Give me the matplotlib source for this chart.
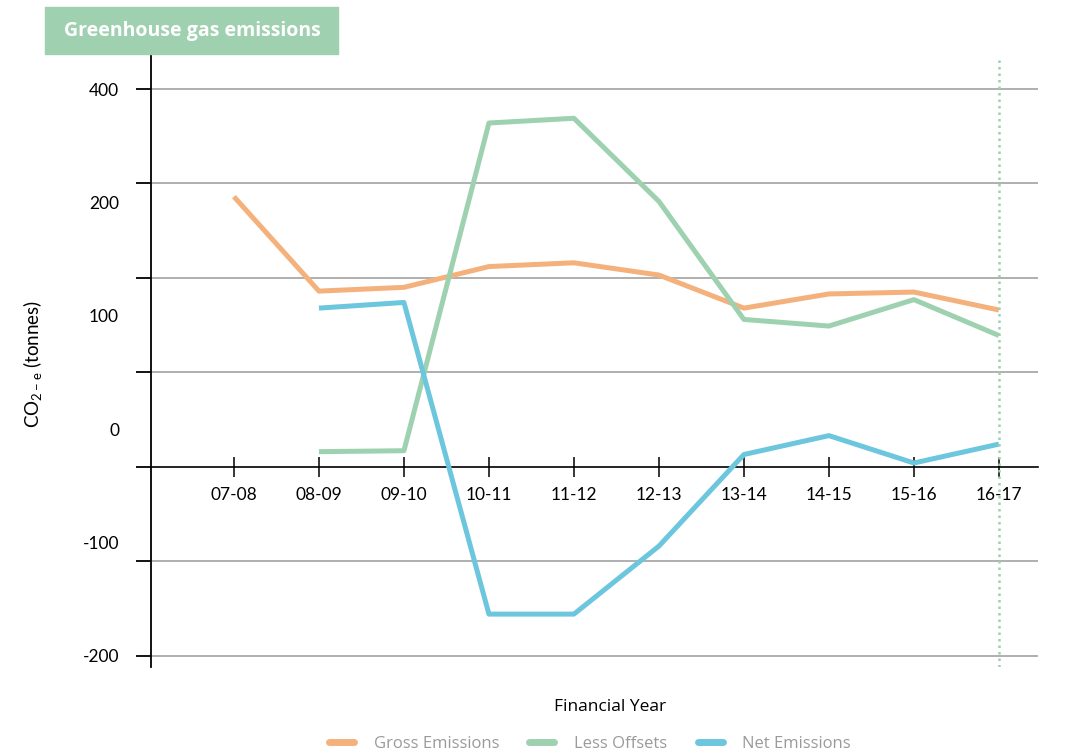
import matplotlib.pyplot as plt
from matplotlib.patches import Rectangle
from matplotlib.lines import Line2D

years = ["07-08", "08-09", "09-10", "10-11", "11-12", "12-13", "13-14", "14-15", "15-16", "16-17"]
gross = [286, 186, 190, 212, 216, 203, 168, 183, 185, 166]
offsets = [None, 16, 17, 364, 369, 281, 156, 149, 177, 139]
net = [None, 168, 174, -156, -156, -84, 13, 33, 4, 24]

grid_vals = [-200, -100, 0, 100, 200, 300, 400]
# the labels on the original chart sit on their own, evenly spaced scale
ylabel_pos = [400, 280, 160, 40, -80, -200]
ylabel_txt = ["400", "200", "100", "0", "-100", "-200"]

c_gross = "#F5B17C"
c_off = "#9DD1B0"
c_net = "#6CC6DD"

plt.rcParams['font.family'] = ['Lato', 'DejaVu Sans']

fig = plt.figure(figsize=(10.67, 7.55), dpi=100)
ax = fig.add_axes([151/1067, 88/755, 887/1067, 612/755])

x = list(range(len(years)))
ax.set_xlim(-0.976, 9.46)
ax.set_ylim(-212, 436)

for v in grid_vals:
    if v != 0:
        ax.axhline(v, color="#9a9a9a", lw=1.1, zorder=1)

def pts(vals):
    xs = [i for i, v in zip(x, vals) if v is not None]
    ys = [v for v in vals if v is not None]
    return xs, ys

ax.plot(*pts(gross), color=c_gross, lw=3.6, solid_capstyle='butt', zorder=3)
ax.plot(*pts(offsets), color=c_off, lw=3.6, solid_capstyle='butt', zorder=3)
ax.plot(*pts(net), color=c_net, lw=3.6, solid_capstyle='butt', zorder=3)

ax.axvline(9, ymin=0, ymax=0.995, color=c_off, lw=1.8, ls=(0, (1, 1.6)), zorder=4)

for s in ["top", "right"]:
    ax.spines[s].set_visible(False)
ax.spines["left"].set_linewidth(1.3)
ax.spines["bottom"].set_position(("data", 0))
ax.spines["bottom"].set_linewidth(1.2)
ax.spines["bottom"].set_bounds(-0.976, 9.46)

ax.set_xticks(x)
ax.set_xticklabels(years, fontsize=12.5)
ax.tick_params(axis="x", direction="inout", length=15, width=1.1, pad=7)

ax.set_yticks(grid_vals)
ax.set_yticklabels([])
ax.tick_params(axis="y", direction="out", length=10.5, width=1.3)

sec = ax.secondary_yaxis("left")
sec.spines["left"].set_visible(False)
sec.set_yticks(ylabel_pos)
sec.set_yticklabels(ylabel_txt, fontsize=12.5)
sec.tick_params(axis="y", length=0, pad=23)

# title box
fig.patches.append(Rectangle((45/1067, 1 - 54/755), 293/1067, 47/755,
                             transform=fig.transFigure, color="#9FD0B0", zorder=0))
fig.text(192/1067, 1 - 31/755, "Greenhouse gas emissions", color="white",
         fontsize=14, fontweight="bold", ha="center", va="center",
         family=["Open Sans", "DejaVu Sans"])

fig.text(33/1067, 1 - 364/755, r"CO$_{\mathregular{2-e}}$ (tonnes)", rotation=90,
         fontsize=13.5, ha="center", va="center")
fig.text(610/1067, 1 - 707/755, "Financial Year", fontsize=12.5, ha="center", va="center",
         family=["Open Sans", "DejaVu Sans"])

handles = [Line2D([], [], color=c, lw=5, solid_capstyle="round") for c in (c_gross, c_off, c_net)]
leg = fig.legend(handles, ["Gross Emissions", "Less Offsets", "Net Emissions"],
                 loc="center", bbox_to_anchor=(590/1067, 11/755), ncol=3, frameon=False,
                 handlelength=1.5, columnspacing=1.8, handletextpad=1.2,
                 prop={"family": ["Open Sans", "DejaVu Sans"], "size": 12})
for t in leg.get_texts():
    t.set_color("#9a9a9a")

fig.savefig("out.png", dpi=100)
